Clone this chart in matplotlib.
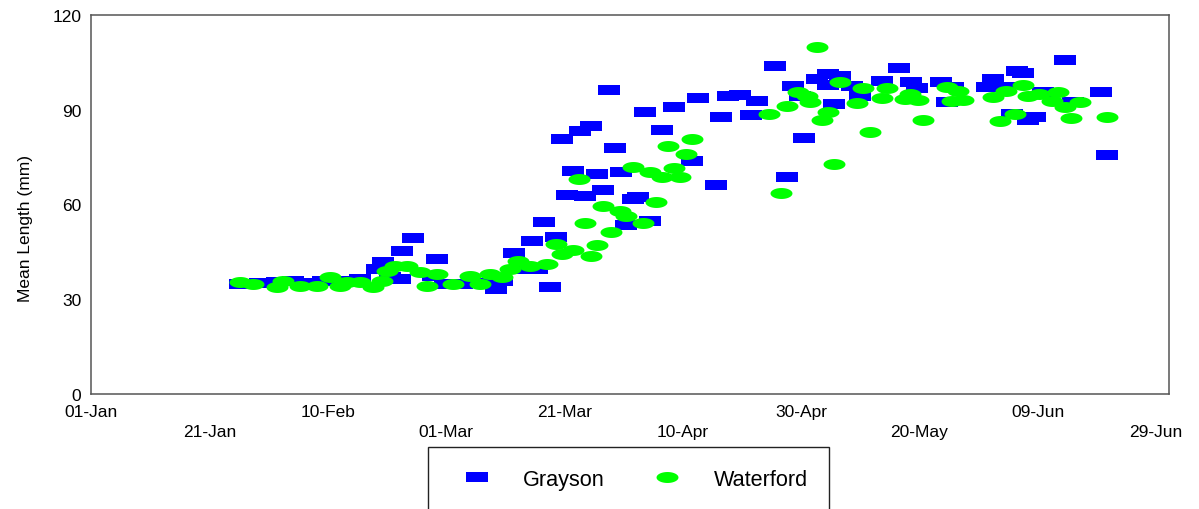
import matplotlib
matplotlib.use("Agg")
import matplotlib.pyplot as plt
import matplotlib.dates as mdates
import numpy as np
import pandas as pd
from matplotlib.path import Path

plt.rcParams['font.family'] = ['Liberation Sans', 'DejaVu Sans']

# jours depuis le 01-Jan (annee bissextile) et longueur moyenne (mm)
annee_debut = "2016-01-01"

grayson_jour = [25.2, 28.6, 31.4, 34.1, 37.0, 39.2, 42.1, 45.5, 48.3, 49.3,
                50.5, 52.2, 52.6, 54.4, 58.5, 57.8, 59.8, 62.7, 65.7, 68.4,
                69.5, 71.5, 72.5, 74.5, 75.4, 76.6, 77.6, 78.6, 79.6, 80.4,
                81.5, 82.6, 83.5, 84.5, 85.5, 86.5, 87.5, 88.6, 89.6, 90.4,
                91.6, 92.4, 93.6, 94.5, 96.5, 98.5, 101.6, 102.6, 105.6, 106.5,
                107.7, 109.7, 111.5, 112.5, 115.6, 117.6, 118.6, 119.8, 120.5, 122.7,
                124.6, 126.6, 124.6, 128.6, 125.6, 130.0, 133.7, 136.6, 138.6, 139.6,
                143.7, 145.7, 144.7, 151.4, 152.4, 154.5, 156.5, 157.5, 155.7, 158.4,
                159.5, 160.9, 164.6, 166.0, 170.7, 171.7]
grayson_long = [34.8, 35.1, 35.5, 35.8, 35.1, 35.8, 35.8, 36.4, 39.6, 41.8,
                37.1, 36.4, 45.3, 49.4, 42.8, 37.4, 34.8, 34.8, 35.1, 33.2,
                35.8, 44.6, 39.6, 48.4, 39.6, 54.5, 33.9, 49.7, 80.8, 63.0,
                70.6, 83.3, 62.7, 84.9, 69.7, 64.6, 96.3, 77.9, 70.3, 53.5,
                61.7, 62.4, 89.3, 54.8, 83.6, 90.9, 73.8, 93.7, 66.2, 87.7,
                94.4, 94.7, 88.3, 92.8, 103.9, 68.7, 97.5, 94.4, 81.1, 99.7,
                101.3, 100.7, 97.8, 97.5, 91.8, 94.4, 99.1, 103.2, 98.8, 96.9,
                98.8, 97.2, 92.5, 97.2, 99.7, 97.2, 102.3, 101.6, 88.7, 86.8,
                87.7, 95.6, 105.8, 92.5, 95.6, 75.7]

waterford_jour = [25.2, 27.4, 31.4, 32.4, 35.3, 38.2, 40.4, 42.1, 43.3, 45.5,
                  47.7, 49.2, 50.0, 51.4, 53.4, 55.6, 56.8, 58.5, 61.2, 64.1,
                  65.7, 67.4, 69.5, 70.8, 72.2, 74.2, 77.1, 78.6, 79.6, 81.5,
                  82.5, 83.5, 84.5, 85.5, 86.5, 87.9, 89.4, 90.4, 93.3, 91.6,
                  94.5, 95.5, 96.5, 97.5, 98.5, 99.5, 100.6, 101.6, 114.6, 116.6,
                  117.6, 119.5, 121.0, 121.5, 122.7, 123.5, 124.6, 125.6, 126.6, 129.5,
                  130.5, 131.7, 133.7, 134.5, 137.6, 138.4, 139.8, 140.6, 144.7, 145.5,
                  146.5, 147.4, 152.4, 153.6, 154.6, 156.2, 157.5, 158.4, 160.2, 162.4,
                  163.4, 164.6, 165.6, 167.1, 171.7]
waterford_long = [35.5, 34.8, 33.9, 35.8, 34.2, 34.2, 37.0, 34.2, 35.5, 35.5,
                  33.9, 35.8, 39.0, 40.5, 40.5, 38.6, 34.2, 38.0, 34.8, 37.4,
                  34.8, 38.0, 37.0, 39.6, 42.1, 40.5, 41.2, 47.5, 44.3, 45.6,
                  68.1, 54.2, 43.7, 47.2, 59.5, 51.3, 57.9, 56.4, 54.2, 71.9,
                  70.3, 60.8, 68.7, 78.5, 71.6, 68.7, 76.0, 80.7, 88.7, 63.6,
                  91.2, 95.6, 94.4, 92.5, 109.9, 86.8, 89.3, 72.8, 98.8, 92.1,
                  96.9, 83.0, 93.7, 96.9, 93.4, 95.0, 93.1, 86.8, 97.2, 92.8,
                  95.9, 93.1, 94.0, 86.5, 95.9, 88.7, 97.8, 94.4, 95.0, 92.8,
                  95.6, 90.9, 87.4, 92.5, 87.7]

debut = pd.Timestamp(annee_debut)
grayson_dates = debut + pd.to_timedelta(grayson_jour, unit="D")
waterford_dates = debut + pd.to_timedelta(waterford_jour, unit="D")

# marqueurs : rectangle et ellipse deux fois plus larges que hauts
rectangle = Path([(-1, -0.5), (1, -0.5), (1, 0.5), (-1, 0.5), (-1, -0.5)],
                 [Path.MOVETO, Path.LINETO, Path.LINETO, Path.LINETO, Path.CLOSEPOLY])
t = np.linspace(0, 2 * np.pi, 60)
ellipse = Path(np.column_stack([np.cos(t), 0.5 * np.sin(t)]))

fig = plt.figure(figsize=(11.99, 5.10), dpi=100)
ax = fig.add_axes([91 / 1199, 1 - 395 / 510, 1078 / 1199, 379 / 510])

ax.plot(grayson_dates, grayson_long, linestyle="none", marker=rectangle,
        markersize=15.8, color="#0000ff", markeredgewidth=0, label="Grayson")
ax.plot(waterford_dates, waterford_long, linestyle="none", marker=ellipse,
        markersize=15.8, color="#00ff00", markeredgewidth=0, label="Waterford")

ax.set_ylim(0, 120)
ax.set_yticks([0, 30, 60, 90, 120])
ax.set_xlim(debut, debut + pd.Timedelta(days=182.2))

# etiquettes sur deux rangs : majeures en haut, mineures en bas
ax.set_xticks([debut + pd.Timedelta(days=d) for d in [0, 40, 80, 120, 160]])
ax.set_xticks([debut + pd.Timedelta(days=d) for d in [20, 60, 100, 140, 180]], minor=True)
fmt = mdates.DateFormatter("%d-%b")
ax.xaxis.set_major_formatter(fmt)
ax.xaxis.set_minor_formatter(fmt)
ax.tick_params(axis="x", which="major", length=0, pad=7.5, labelsize=12.5)
ax.tick_params(axis="x", which="minor", length=0, pad=21.5, labelsize=12.5)
ax.tick_params(axis="y", length=0, pad=7, labelsize=12.5)

for s in ax.spines.values():
    s.set_color("#555555")
    s.set_linewidth(1.1)

ax.set_ylabel("Mean Length (mm)", fontsize=12.5, va="center")
ax.yaxis.set_label_coords(-0.0612, 0.438)

ax.legend(loc="upper left", bbox_to_anchor=(428 / 1199, 1 - 448 / 510),
          bbox_transform=fig.transFigure, borderaxespad=0, ncol=2,
          fontsize=15.6, numpoints=1, fancybox=False, framealpha=1,
          edgecolor="#222222", borderpad=1.0, handlelength=2.5,
          handletextpad=0.88, columnspacing=1.65)

fig.savefig("out.png", dpi=100)
